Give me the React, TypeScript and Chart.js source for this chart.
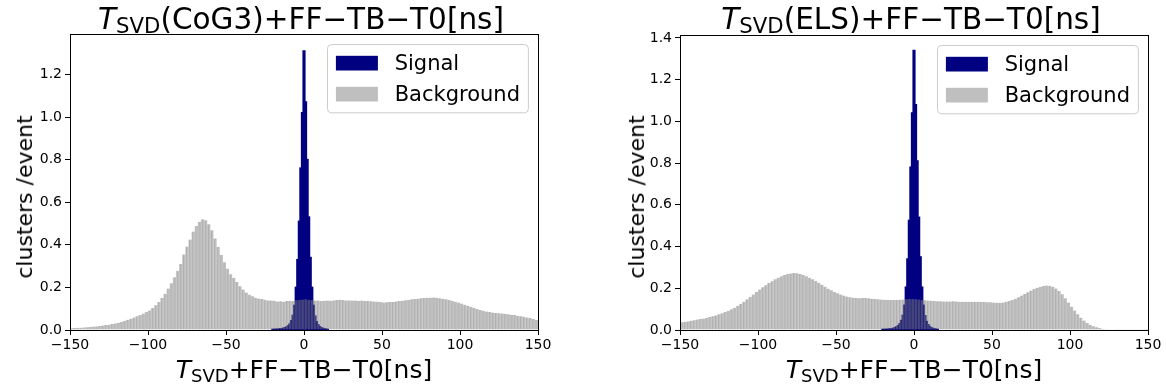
import React, { useEffect, useRef } from "react";
import { Chart, registerables } from "chart.js";

Chart.register(...registerables);

// ---------- data ----------
// background histograms: 2 ns bins, first bin centre at -149 ns
const BG_BIN_START = -149;
const BG_BIN_WIDTH = 2;
const BG_COG3 = [
  0.008, 0.009, 0.010, 0.011, 0.012, 0.013, 0.014, 0.016, 0.017, 0.019,
  0.021, 0.023, 0.025, 0.028, 0.031, 0.034, 0.038, 0.043, 0.048, 0.053,
  0.059, 0.065, 0.071, 0.077, 0.084, 0.092, 0.103, 0.116, 0.132, 0.150,
  0.170, 0.195, 0.220, 0.248, 0.278, 0.310, 0.355, 0.392, 0.425, 0.462,
  0.488, 0.508, 0.520, 0.515, 0.497, 0.468, 0.430, 0.390, 0.352, 0.318,
  0.288, 0.262, 0.245, 0.225, 0.205, 0.190, 0.176, 0.166, 0.158, 0.152,
  0.148, 0.145, 0.142, 0.139, 0.138, 0.137, 0.134, 0.135, 0.133, 0.136,
  0.137, 0.136, 0.140, 0.142, 0.143, 0.144, 0.142, 0.141, 0.138, 0.138,
  0.136, 0.137, 0.138, 0.137, 0.139, 0.141, 0.142, 0.141, 0.139, 0.139,
  0.138, 0.138, 0.137, 0.138, 0.136, 0.137, 0.135, 0.134, 0.133, 0.131,
  0.129, 0.130, 0.131, 0.131, 0.134, 0.136, 0.137, 0.140, 0.141, 0.144,
  0.146, 0.147, 0.149, 0.150, 0.151, 0.152, 0.153, 0.151, 0.149, 0.147,
  0.144, 0.141, 0.137, 0.133, 0.129, 0.124, 0.119, 0.114, 0.109, 0.104,
  0.099, 0.094, 0.090, 0.087, 0.084, 0.082, 0.080, 0.079, 0.077, 0.076,
  0.074, 0.072, 0.070, 0.067, 0.065, 0.062, 0.059, 0.056, 0.052, 0.047,
];
const BG_ELS = [
  0.037, 0.039, 0.041, 0.044, 0.047, 0.050, 0.053, 0.055, 0.058, 0.062,
  0.066, 0.070, 0.075, 0.080, 0.086, 0.092, 0.099, 0.107, 0.116, 0.126,
  0.136, 0.147, 0.158, 0.170, 0.182, 0.194, 0.205, 0.215, 0.225, 0.234,
  0.243, 0.251, 0.258, 0.264, 0.268, 0.271, 0.273, 0.272, 0.269, 0.264,
  0.258, 0.251, 0.243, 0.235, 0.226, 0.217, 0.207, 0.198, 0.190, 0.182,
  0.176, 0.170, 0.165, 0.160, 0.157, 0.155, 0.153, 0.152, 0.153, 0.153,
  0.152, 0.150, 0.148, 0.147, 0.146, 0.145, 0.144, 0.144, 0.144, 0.144,
  0.145, 0.146, 0.147, 0.148, 0.148, 0.147, 0.146, 0.144, 0.142, 0.141,
  0.140, 0.139, 0.138, 0.138, 0.137, 0.137, 0.137, 0.138, 0.137, 0.136,
  0.136, 0.135, 0.135, 0.135, 0.136, 0.135, 0.134, 0.134, 0.133, 0.133,
  0.132, 0.131, 0.131, 0.132, 0.135, 0.139, 0.144, 0.150, 0.157, 0.165,
  0.173, 0.181, 0.189, 0.196, 0.202, 0.207, 0.211, 0.213, 0.212, 0.207,
  0.199, 0.187, 0.171, 0.152, 0.132, 0.112, 0.093, 0.075, 0.059, 0.045,
  0.034, 0.025, 0.018, 0.013, 0.009, 0.006, 0.004, 0.003, 0.002, 0.0015,
  0.001, 0.001, 0.001, 0.001, 0.0008, 0.0008, 0.0007, 0.0006, 0.0006, 0.0005,
];
// signal histograms: 1 ns bins, first bin centre at -20 ns
const SIG_BIN_START = -20;
const SIG_BIN_WIDTH = 1;
const SIG_COG3 = [
  0.002, 0.002, 0.003, 0.003, 0.004, 0.005, 0.006, 0.008, 0.010, 0.014,
  0.019, 0.028, 0.043, 0.068, 0.115, 0.200, 0.330, 0.510, 0.760, 1.020,
  1.310, 1.070, 0.800, 0.530, 0.340, 0.200, 0.115, 0.065, 0.038, 0.024,
  0.015, 0.010, 0.007, 0.005, 0.003, 0.002,
];
const SIG_ELS = [
  0.001, 0.002, 0.002, 0.003, 0.004, 0.005, 0.006, 0.008, 0.011, 0.015,
  0.020, 0.030, 0.045, 0.070, 0.118, 0.205, 0.340, 0.525, 0.780, 1.040,
  1.340, 1.080, 0.810, 0.540, 0.350, 0.205, 0.118, 0.068, 0.040, 0.025,
  0.016, 0.010, 0.007, 0.005, 0.003, 0.002,
];
const X_TICKS = [-150, -100, -50, 0, 50, 100, 150];
const Y_TICKS_COG3 = [0, 0.2, 0.4, 0.6, 0.8, 1.0, 1.2];
const Y_TICKS_ELS = [0, 0.2, 0.4, 0.6, 0.8, 1.0, 1.2, 1.4];
const SERIES_LABELS = ["Signal", "Background"];
const METHODS = ["CoG3", "ELS"];
const Y_LABEL = "clusters /event";

// ---------- styling ----------
const W = 583;
const H = 389;
const FONT = '"DejaVu Sans", "Liberation Sans", sans-serif';
const MINUS = "\u2212";

const framePlugin = {
  id: "frame",
  afterDatasetsDraw(chart: any) {
    const { ctx, chartArea } = chart;
    const { left, right, top, bottom } = chartArea;
    ctx.save();
    ctx.strokeStyle = "#000";
    ctx.lineWidth = 1;
    ctx.strokeRect(Math.round(left) + 0.5, Math.round(top) + 0.5, Math.round(right - left), Math.round(bottom - top));
    ctx.restore();
  },
};

const legendPlugin = {
  id: "mplLegend",
  afterDraw(chart: any) {
    const { ctx, chartArea } = chart;
    const fs = 21;
    const pad = 0.4 * fs;
    const handleW = 2 * fs;
    const handleH = 0.7 * fs;
    const hpad = 0.8 * fs;
    const spacing = 0.5 * fs;
    const rowH = 20.5;
    ctx.save();
    ctx.font = `${fs}px ${FONT}`;
    const ds = chart.data.datasets;
    let maxW = 0;
    ds.forEach((d: any) => {
      maxW = Math.max(maxW, ctx.measureText(d.label).width);
    });
    const boxW = pad + handleW + hpad + maxW + pad;
    const boxH = 2 * pad + ds.length * rowH + (ds.length - 1) * spacing;
    const bx = Math.round(chartArea.right - 10 - boxW) + 0.5;
    const by = Math.round(chartArea.top + 10) + 0.5;
    const r = 4;
    ctx.beginPath();
    ctx.moveTo(bx + r, by);
    ctx.lineTo(bx + boxW - r, by);
    ctx.arcTo(bx + boxW, by, bx + boxW, by + r, r);
    ctx.lineTo(bx + boxW, by + boxH - r);
    ctx.arcTo(bx + boxW, by + boxH, bx + boxW - r, by + boxH, r);
    ctx.lineTo(bx + r, by + boxH);
    ctx.arcTo(bx, by + boxH, bx, by + boxH - r, r);
    ctx.lineTo(bx, by + r);
    ctx.arcTo(bx, by, bx + r, by, r);
    ctx.closePath();
    ctx.fillStyle = "rgba(255,255,255,0.8)";
    ctx.fill();
    ctx.strokeStyle = "#cccccc";
    ctx.lineWidth = 1;
    ctx.stroke();
    ds.forEach((d: any, i: number) => {
      const cy = by + pad + rowH / 2 + i * (rowH + spacing);
      ctx.fillStyle = d.legendColor || d.backgroundColor;
      ctx.fillRect(bx + pad, cy - handleH / 2, handleW, handleH);
      ctx.fillStyle = "#000";
      ctx.textBaseline = "middle";
      ctx.textAlign = "left";
      ctx.fillText(d.label, bx + pad + handleW + hpad, cy + 1);
    });
    ctx.restore();
  },
};

type PanelProps = {
  offset: number;
  method: string;
  bg: number[];
  sig: number[];
  yMax: number;
  yTicks: number[];
  plotLeft: number;
  plotRight: number;
  plotTop: number;
  ylabelX: number;
};

function Panel(p: PanelProps) {
  const ref = useRef<HTMLCanvasElement | null>(null);
  useEffect(() => {
    if (!ref.current) return;
    const tickFont = { family: FONT, size: 14 };
    const chart = new Chart(ref.current, {
      type: "bar",
      data: {
        datasets: [
          {
            label: SERIES_LABELS[0],
            data: p.sig.map((v, i) => ({ x: SIG_BIN_START + i * SIG_BIN_WIDTH, y: v })),
            xAxisID: "xs",
            yAxisID: "y",
            backgroundColor: "#000080",
            borderWidth: 0,
            inflateAmount: 0.8,
            grouped: false,
            barPercentage: 1,
            categoryPercentage: 1,
            order: 2,
          } as any,
          {
            label: SERIES_LABELS[1],
            data: p.bg.map((v, i) => ({ x: BG_BIN_START + i * BG_BIN_WIDTH, y: v })),
            xAxisID: "x",
            yAxisID: "y",
            backgroundColor: "rgba(128,128,128,0.5)",
            legendColor: "#bfbfbf",
            borderColor: "rgba(100,100,100,0.3)",
            borderWidth: { left: 1, right: 0, top: 0, bottom: 0 },
            borderSkipped: false,
            grouped: false,
            barPercentage: 1,
            categoryPercentage: 1,
            order: 1,
          } as any,
        ],
      },
      options: {
        responsive: false,
        animation: false,
        events: [],
        layout: { padding: { left: 0, right: W - p.plotRight, top: p.plotTop, bottom: 0 } },
        plugins: { legend: { display: false }, tooltip: { enabled: false }, title: { display: false } },
        scales: {
          x: {
            type: "linear",
            min: -150,
            max: 150,
            offset: false,
            afterBuildTicks: (s: any) => {
              s.ticks = X_TICKS.map((v) => ({ value: v }));
            },
            afterFit: (s: any) => {
              s.height = H - 330;
            },
            grid: { display: true, drawOnChartArea: false, drawTicks: true, tickLength: 5, color: "#000", tickColor: "#000", offset: false },
            border: { display: false },
            ticks: {
              color: "#000",
              font: tickFont,
              padding: 2,
              maxRotation: 0,
              autoSkip: false,
              callback: (v: any) => (v < 0 ? MINUS + Math.abs(v) : String(v)),
            },
          },
          xs: { type: "linear", min: -150, max: 150, offset: false, display: false },
          y: {
            type: "linear",
            min: 0,
            max: p.yMax,
            afterBuildTicks: (s: any) => {
              s.ticks = p.yTicks.map((v) => ({ value: v }));
            },
            afterFit: (s: any) => {
              s.width = p.plotLeft;
            },
            grid: { display: true, drawOnChartArea: false, drawTicks: true, tickLength: 5, color: "#000", tickColor: "#000" },
            border: { display: false },
            title: { display: false },
            ticks: {
              color: "#000",
              font: tickFont,
              padding: 3,
              autoSkip: false,
              callback: (v: any) => Number(v).toFixed(1),
            },
          },
        },
      } as any,
      plugins: [framePlugin, legendPlugin],
    });
    return () => chart.destroy();
  }, []);

  const cx = p.offset + p.plotLeft;
  const cw = p.plotRight - p.plotLeft;
  const sub = { fontSize: "0.72em", position: "relative" as const, top: "0.2em" };
  return (
    <>
      <canvas ref={ref} width={W} height={H} style={{ position: "absolute", left: p.offset, top: 0, width: W, height: H }} />
      <div
        style={{
          position: "absolute",
          left: cx - 3,
          width: cw,
          top: 5,
          fontSize: 29.5,
          lineHeight: "29px",
          textAlign: "center",
          whiteSpace: "nowrap",
          color: "#000",
        }}
      >
        <span style={{ fontStyle: "italic" }}>T</span>
        <span style={sub}>SVD</span>({p.method})+FF{MINUS}TB{MINUS}T0[ns]
      </div>
      <div
        style={{
          position: "absolute",
          left: cx,
          width: cw,
          top: 357,
          fontSize: 25,
          lineHeight: "25px",
          textAlign: "center",
          whiteSpace: "nowrap",
          color: "#000",
        }}
      >
        <span style={{ fontStyle: "italic" }}>T</span>
        <span style={sub}>SVD</span>+FF{MINUS}TB{MINUS}T0[ns]
      </div>
      <div
        style={{
          position: "absolute",
          left: p.offset + p.ylabelX,
          top: 197,
          fontSize: 22,
          lineHeight: "22px",
          whiteSpace: "nowrap",
          color: "#000",
          transform: "translate(-50%, -50%) rotate(-90deg)",
        }}
      >
        {Y_LABEL}
      </div>
    </>
  );
}

export default function App() {
  return (
    <div style={{ position: "absolute", left: 0, top: 0, width: 1166, height: 389, fontFamily: FONT, background: "#fff" }}>
      <Panel
        offset={0}
        method={METHODS[0]}
        bg={BG_COG3}
        sig={SIG_COG3}
        yMax={1.39}
        yTicks={Y_TICKS_COG3}
        plotLeft={70}
        plotRight={538}
        plotTop={34}
        ylabelX={25}
      />
      <Panel
        offset={583}
        method={METHODS[1]}
        bg={BG_ELS}
        sig={SIG_ELS}
        yMax={1.414}
        yTicks={Y_TICKS_ELS}
        plotLeft={97}
        plotRight={565}
        plotTop={35}
        ylabelX={54}
      />
    </div>
  );
}
